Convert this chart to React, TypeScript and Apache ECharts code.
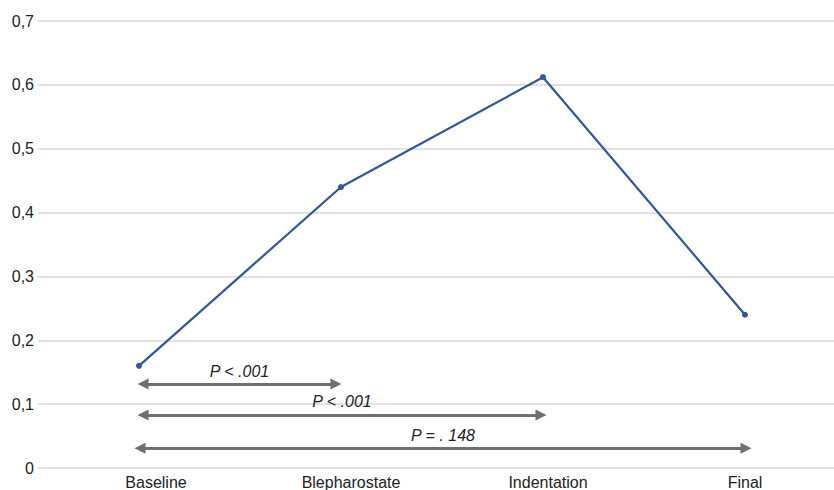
import React, { useEffect, useRef } from "react";
import * as echarts from "echarts";

const categories = ["Baseline", "Blepharostate", "Indentation", "Final"];
const values = [0.16, 0.44, 0.612, 0.24];
const yTicks = [0, 0.1, 0.2, 0.3, 0.4, 0.5, 0.6, 0.7];

// comparison arrows (x in category index units, y in data units)
const arrowLabels = ["P < .001", "P < .001", "P = . 148"];
const arrowStarts = [0.02, 0.02, 0.005];
const arrowEnds = [0.975, 1.99, 3.005];
const arrowLevels = [0.1315, 0.083, 0.031];

const labelShift = [34, 20, 10, 0];

export default function App() {
  const ref = useRef<HTMLDivElement>(null);
  useEffect(() => {
    if (!ref.current) return;
    const chart = echarts.init(ref.current, null, { renderer: "svg" });
    const font = "'Liberation Sans', Arial, Helvetica, sans-serif";
    const rich: any = {};
    categories.forEach((c, i) => {
      rich["c" + i] = {
        fontSize: 16,
        fontFamily: font,
        color: "#222",
        padding: [0, 0, 0, labelShift[i]],
      };
    });
    chart.setOption({
      animation: false,
      grid: { left: 38, right: 0, top: 21, bottom: 22, containLabel: false },
      xAxis: [
        {
          type: "category",
          data: categories,
          axisLine: { show: false },
          axisTick: { show: false },
          axisLabel: {
            margin: 6,
            fontSize: 16,
            fontFamily: font,
            color: "#222",
            formatter: (v: string) => {
              const i = categories.indexOf(v);
              return "{c" + i + "|" + v + "}";
            },
            rich,
          },
        },
        {
          type: "value",
          min: -0.5,
          max: 3.5,
          show: false,
          splitLine: { show: false },
        },
      ],
      yAxis: {
        type: "value",
        min: yTicks[0],
        max: yTicks[yTicks.length - 1],
        interval: 0.1,
        axisLine: { show: false },
        axisTick: { show: false },
        splitLine: { lineStyle: { color: "#d8d8d8", width: 1.5 } },
        axisLabel: {
          margin: 4,
          fontSize: 16,
          fontFamily: font,
          color: "#222",
          formatter: (v: number) => (v === 0 ? "0" : v.toFixed(1).replace(".", ",")),
        },
      },
      series: [
        {
          type: "line",
          data: values,
          xAxisIndex: 0,
          symbol: "circle",
          symbolSize: 6,
          lineStyle: { color: "#2e56a6", width: 2.2 },
          itemStyle: { color: "#2e56a6" },
        },
        {
          type: "line",
          xAxisIndex: 1,
          data: [],
          markLine: {
            silent: true,
            symbol: ["triangle", "triangle"],
            symbolSize: [11, 11],
            lineStyle: { color: "#6f6f6f", width: 3, type: "solid" },
            label: {
              show: true,
              position: "middle",
              formatter: "{b}",
              distance: 5,
              fontSize: 16,
              fontStyle: "italic",
              fontFamily: font,
              color: "#222",
            },
            data: arrowLabels.map((name, i) => [
              { name, coord: [arrowStarts[i], arrowLevels[i]] },
              { coord: [arrowEnds[i], arrowLevels[i]] },
            ]),
          },
        },
      ],
    });
    return () => chart.dispose();
  }, []);
  return (
    <div style={{ position: "fixed", left: 0, top: 0, width: 834, height: 490, overflow: "hidden", background: "#fff" }}>
      <div ref={ref} style={{ width: 846, height: 490 }} />
    </div>
  );
}
